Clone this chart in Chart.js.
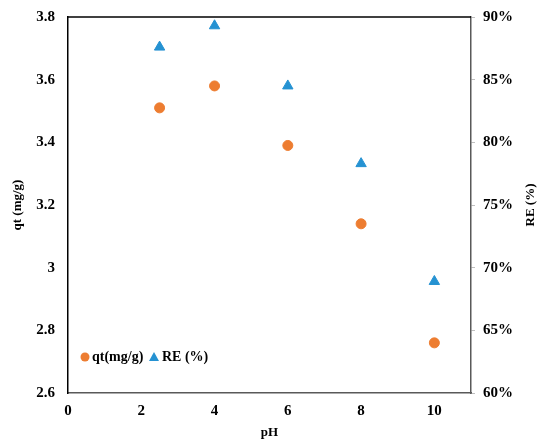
<!DOCTYPE html>
<html>
<head>
<meta charset="utf-8">
<script src="https://cdn.jsdelivr.net/npm/chart.js@4/dist/chart.umd.min.js"></script>
<style>
  html, body { margin: 0; padding: 0; background: #fff; }
  #wrap { width: 550px; height: 448px; }
</style>
</head>
<body>
<div id="wrap"><canvas id="chart"></canvas></div>
<script>
// data
var phValues = [2.5, 4, 6, 8, 10];
var qtValues = [3.51, 3.58, 3.39, 3.14, 2.76];
var reValues = [87.6, 89.3, 84.5, 78.3, 68.9];
var qtLabel = 'qt(mg/g)';
var reLabel = 'RE (%)';

var serif = 'Liberation Serif';
var orange = '#ED7D31';
var blue = '#2592D2';

function pts(xs, ys) {
  var out = [];
  for (var i = 0; i < xs.length; i++) out.push({ x: xs[i], y: ys[i] });
  return out;
}

// top frame line + legend inside plot + right title
var extras = {
  id: 'extras',
  afterDraw: function (chart) {
    var ctx = chart.ctx;
    var a = chart.chartArea;
    ctx.save();
    ctx.strokeStyle = '#000';
    ctx.lineWidth = 1.5;
    ctx.beginPath();
    ctx.moveTo(a.left, a.top);
    ctx.lineTo(a.right, a.top);
    ctx.stroke();

    // legend
    var ly = 357;
    var ds = chart.data.datasets;
    ctx.font = 'bold 14px "' + serif + '"';
    ctx.textBaseline = 'middle';
    ctx.textAlign = 'left';
    ctx.fillStyle = ds[0].backgroundColor;
    ctx.beginPath();
    ctx.arc(85, ly, 4.5, 0, Math.PI * 2);
    ctx.fill();
    ctx.fillStyle = '#000';
    ctx.fillText(ds[0].label, 92, ly);
    ctx.fillStyle = ds[1].backgroundColor;
    ctx.beginPath();
    ctx.moveTo(154, ly - 5);
    ctx.lineTo(159, ly + 4);
    ctx.lineTo(149, ly + 4);
    ctx.closePath();
    ctx.fill();
    ctx.fillStyle = '#000';
    ctx.fillText(ds[1].label, 162, ly);

    // right axis title, reading bottom to top
    ctx.translate(531, (a.top + a.bottom) / 2);
    ctx.rotate(-Math.PI / 2);
    ctx.textAlign = 'center';
    ctx.font = 'bold 13px "' + serif + '"';
    ctx.fillText(reLabel, 0, 0);
    ctx.restore();
  }
};

function fixY(width) {
  return function (s) {
    s.width = width;
    s.paddingTop = 0;
    s.paddingBottom = 0;
  };
}

var chart = new Chart(document.getElementById('chart'), {
  type: 'scatter',
  data: {
    datasets: [{
      label: qtLabel,
      data: pts(phValues, qtValues),
      yAxisID: 'y',
      pointStyle: 'circle',
      pointRadius: 5,
      backgroundColor: orange,
      borderColor: orange
    }, {
      label: reLabel,
      data: pts(phValues, reValues),
      yAxisID: 'y1',
      pointStyle: 'triangle',
      pointRadius: 6,
      backgroundColor: blue,
      borderColor: blue
    }]
  },
  options: {
    responsive: true,
    maintainAspectRatio: false,
    animation: false,
    layout: { padding: { top: 17, left: 0, right: 0, bottom: 0 } },
    plugins: {
      legend: { display: false },
      tooltip: { enabled: false }
    },
    scales: {
      x: {
        type: 'linear',
        min: 0,
        max: 11,
        grid: { display: false, drawTicks: false },
        border: { color: '#595959', width: 1.5 },
        ticks: {
          stepSize: 2,
          padding: 9,
          color: '#000',
          font: { family: serif, size: 15, weight: 'bold' },
          callback: function (v) { return v > 10 ? '' : v; }
        },
        title: {
          display: true,
          text: 'pH',
          color: '#000',
          padding: { bottom: 8 },
          font: { family: serif, size: 13, weight: 'bold' }
        },
        afterFit: function (s) { s.height = 55; }
      },
      y: {
        position: 'left',
        min: 2.6,
        max: 3.8,
        grid: { display: false, drawTicks: false },
        border: { color: '#000', width: 1.5 },
        ticks: {
          stepSize: 0.2,
          padding: 13,
          color: '#000',
          font: { family: serif, size: 15, weight: 'bold' },
          callback: function (v) { return String(Number(v.toFixed(1))); }
        },
        title: {
          display: true,
          text: 'qt (mg/g)',
          color: '#000',
          padding: { top: 10 },
          font: { family: serif, size: 13, weight: 'bold' }
        },
        afterFit: fixY(68)
      },
      y1: {
        position: 'right',
        min: 60,
        max: 90,
        grid: { drawOnChartArea: false, drawTicks: true, tickLength: 4, color: '#bfbfbf' },
        border: { color: '#595959', width: 1.5 },
        ticks: {
          stepSize: 5,
          padding: 8,
          color: '#000',
          font: { family: serif, size: 15, weight: 'bold' },
          callback: function (v) { return v + '%'; }
        },
        afterFit: fixY(79)
      }
    }
  },
  plugins: [extras]
});
</script>
</body>
</html>
